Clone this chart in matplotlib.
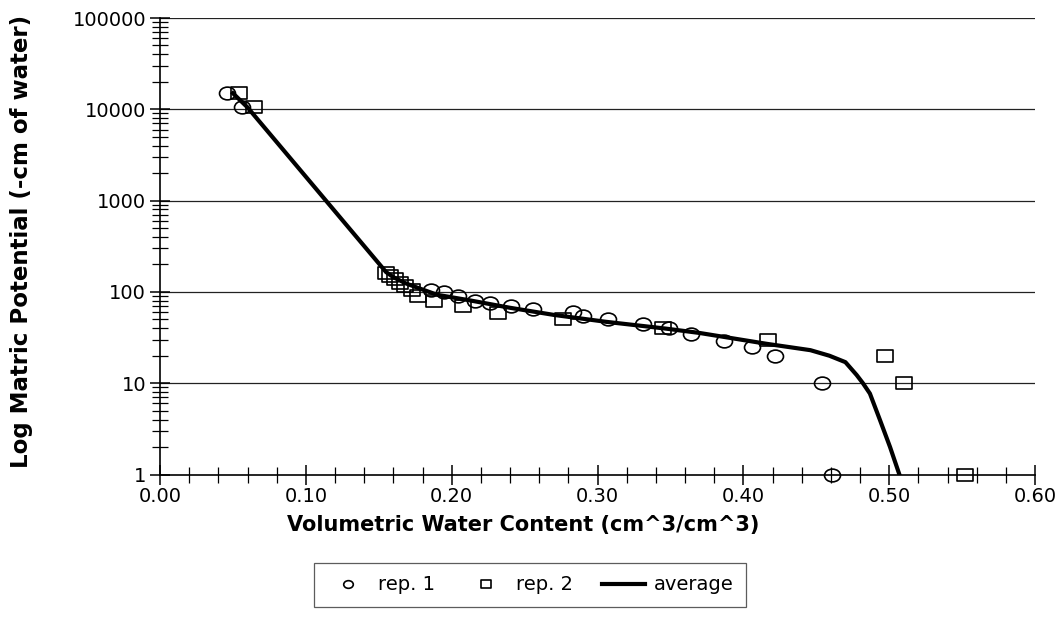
import matplotlib
matplotlib.use("Agg")
import matplotlib.pyplot as plt
import numpy as np
from matplotlib.path import Path
from matplotlib.ticker import MultipleLocator, LogLocator, NullFormatter, FixedLocator, FixedFormatter

plt.rcParams['font.family'] = ['DejaVu Sans']

# rep. 1 (circles)
rep1_x = [0.046, 0.056, 0.186, 0.195, 0.2046, 0.216, 0.226, 0.241, 0.256, 0.283,
          0.290, 0.307, 0.331, 0.349, 0.364, 0.387, 0.406, 0.422, 0.454, 0.4606]
rep1_y = [15000, 10500, 105, 100, 90, 80, 75, 70, 65, 60,
          55, 50, 45, 40, 35, 29, 25, 20, 10, 1]

# rep. 2 (squares)
rep2_x = [0.054, 0.0645, 0.155, 0.158, 0.161, 0.1646, 0.168, 0.1726, 0.177, 0.188,
          0.2075, 0.232, 0.276, 0.345, 0.417, 0.497, 0.510, 0.552]
rep2_y = [15000, 10500, 160, 150, 140, 125, 115, 105, 90, 80,
          70, 58, 50, 40, 30, 20, 10, 1]

# average (line)
avg_x = [0.050, 0.060, 0.155, 0.160, 0.168, 0.176, 0.190, 0.212, 0.240, 0.270,
         0.306, 0.347, 0.370, 0.416, 0.446, 0.459, 0.470, 0.4777, 0.482, 0.4868,
         0.4937, 0.5006, 0.507]
avg_y = [15000, 10500, 165, 145, 125, 112, 93, 81, 67, 56,
         47, 39.6, 35.5, 27, 23, 20, 17, 12.3, 10, 7.7,
         3.95, 2.0, 1]

x_ticks = [0.0, 0.1, 0.2, 0.3, 0.4, 0.5, 0.6]
x_tick_labels = ["0.00", "0.10", "0.20", "0.30", "0.40", "0.50", "0.60"]
y_ticks = [1, 10, 100, 1000, 10000, 100000]
y_tick_labels = ["1", "10", "100", "1000", "10000", "100000"]

# markers: slightly flattened ellipse and rectangle
circ = Path.unit_circle()
ell = Path(circ.vertices * np.array([1.0, 0.8]), circ.codes)
rect = Path([(-1, -0.8), (1, -0.8), (1, 0.8), (-1, 0.8), (-1, -0.8)],
            [Path.MOVETO, Path.LINETO, Path.LINETO, Path.LINETO, Path.CLOSEPOLY])

fig = plt.figure(figsize=(10.6, 6.42), dpi=100)
ax = fig.add_axes([160/1060, 1-474.5/642, 875/1060, (474.5-18)/642])

ax.set_yscale('log')
ax.set_xlim(0, 0.6)
ax.set_ylim(1, 100000)

for yv in [10, 100, 1000, 10000, 100000]:
    ax.axhline(yv, color='#222222', lw=0.9, zorder=1)

ax.plot(rep1_x, rep1_y, linestyle='none', marker=ell, markersize=11.5,
        markerfacecolor='none', markeredgecolor='black', markeredgewidth=1.2,
        label='rep. 1', zorder=3, clip_on=False)
ax.plot(rep2_x, rep2_y, linestyle='none', marker=rect, markersize=11.5,
        markerfacecolor='none', markeredgecolor='black', markeredgewidth=1.2,
        label='rep. 2', zorder=3, clip_on=False)
ax.plot(avg_x, avg_y, color='black', lw=3, label='average', zorder=4)

for s in ['top', 'right']:
    ax.spines[s].set_visible(False)
for s in ['left', 'bottom']:
    ax.spines[s].set_linewidth(1.2)
    ax.spines[s].set_zorder(5)

ax.xaxis.set_major_locator(FixedLocator(x_ticks))
ax.xaxis.set_major_formatter(FixedFormatter(x_tick_labels))
ax.xaxis.set_minor_locator(MultipleLocator(0.02))
ax.yaxis.set_major_locator(FixedLocator(y_ticks))
ax.yaxis.set_major_formatter(FixedFormatter(y_tick_labels))
ax.yaxis.set_minor_locator(LogLocator(base=10, subs=np.arange(2, 10), numticks=20))
ax.yaxis.set_minor_formatter(NullFormatter())

ax.tick_params(axis='both', which='major', direction='inout', length=14, width=1.1,
               labelsize=14, colors='black', pad=3)
ax.tick_params(axis='both', which='minor', direction='inout', length=11, width=0.9)
ax.tick_params(axis='x', which='major', pad=2)

ax.set_xlabel('Volumetric Water Content (cm^3/cm^3)', fontsize=15, fontweight='bold')
ax.xaxis.set_label_coords((523-160)/875, -(525-474.5)/456.5)
ax.xaxis.label.set_va('center')
ax.set_ylabel('Log Matric Potential (-cm of water)', fontsize=16.5, fontweight='bold')
ax.yaxis.set_label_coords(-(160-22)/875, (474.5-241)/456.5)
ax.yaxis.label.set_va('center')

leg = fig.legend(loc='center', bbox_to_anchor=(530/1060, 1-585/642), ncol=3,
                 frameon=True, fancybox=False, edgecolor='#333333', fontsize=14,
                 markerscale=0.6, handlelength=2.2, columnspacing=1.5,
                 borderpad=0.65, handletextpad=0.45)
leg.get_frame().set_linewidth(0.9)

fig.savefig('out.png', dpi=100)
